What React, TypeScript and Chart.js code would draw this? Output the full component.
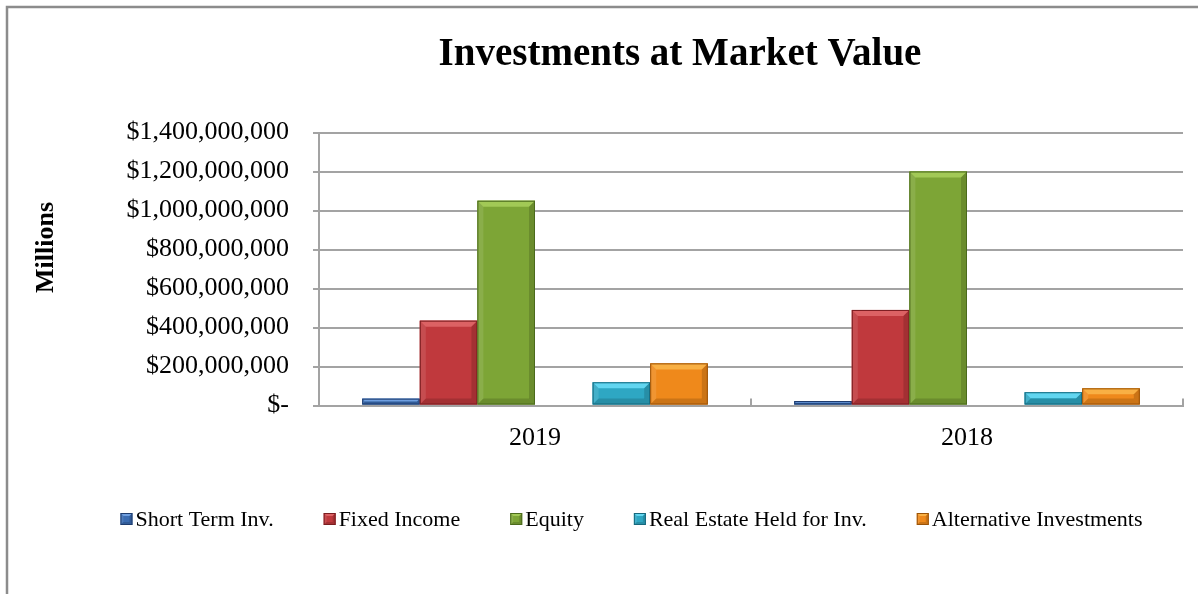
import React, { useEffect, useRef } from 'react';
import { Chart, registerables } from 'chart.js';

Chart.register(...registerables);

const categories = ['2019', '2018'];
const seriesNames = ['Short Term Inv.', 'Fixed Income', 'Equity', '', 'Real Estate Held for Inv.', 'Alternative Investments'];
const shortTermInv = [35000000, 23000000];
const fixedIncome = [435000000, 490000000];
const equity = [1050000000, 1200000000];
const emptySlot = [null, null];
const realEstateHeld = [119000000, 68000000];
const alternativeInv = [216000000, 88000000];
const yMin = 0;
const yMax = 1400000000;
const yStep = 200000000;
const titleText = 'Investments at Market Value';
const yAxisTitle = 'Millions';

const FONT = "'Liberation Serif', 'Times New Roman', serif";
const GRID = '#a3a3a3';

const palette = [
  { fill: '#3a6cb2', light: '#6f9fe0', dark: '#1e3c6e' },
  { fill: '#c0393d', light: '#dc6264', dark: '#7a1d20' },
  { fill: '#7da536', light: '#a2c956', dark: '#4b6a1c' },
  { fill: '#888888', light: '#aaaaaa', dark: '#555555' },
  { fill: '#2ea7c3', light: '#62d6f0', dark: '#16687d' },
  { fill: '#ef891b', light: '#f9b044', dark: '#9a5308' },
];

function drawBevelBox(ctx: CanvasRenderingContext2D, l: number, t: number, r: number, b: number, c: any, maxBevel: number) {
  const w = r - l;
  const h = b - t;
  if (w <= 0 || h <= 0) return;
  const bv = Math.max(0, Math.min(maxBevel, h / 2, w / 2));
  ctx.save();
  ctx.fillStyle = c.fill;
  ctx.fillRect(l, t, w, h);
  ctx.fillStyle = c.light;
  ctx.beginPath();
  ctx.moveTo(l, t); ctx.lineTo(r, t); ctx.lineTo(r - bv, t + bv); ctx.lineTo(l + bv, t + bv); ctx.closePath();
  ctx.fill();
  ctx.fillStyle = 'rgba(255,255,255,0.1)';
  ctx.beginPath();
  ctx.moveTo(l, t); ctx.lineTo(l + bv, t + bv); ctx.lineTo(l + bv, b - bv); ctx.lineTo(l, b); ctx.closePath();
  ctx.fill();
  ctx.fillStyle = 'rgba(0,0,0,0.15)';
  ctx.beginPath();
  ctx.moveTo(r, t); ctx.lineTo(r - bv, t + bv); ctx.lineTo(r - bv, b - bv); ctx.lineTo(r, b); ctx.closePath();
  ctx.fill();
  ctx.fillStyle = 'rgba(0,0,0,0.15)';
  ctx.beginPath();
  ctx.moveTo(l, b); ctx.lineTo(l + bv, b - bv); ctx.lineTo(r - bv, b - bv); ctx.lineTo(r, b); ctx.closePath();
  ctx.fill();
  ctx.strokeStyle = c.dark;
  ctx.lineWidth = 1;
  ctx.strokeRect(l + 0.5, t + 0.5, w - 1, h - 1);
  ctx.restore();
}

const bevelPlugin = {
  id: 'bevelBars',
  afterDatasetsDraw(chart: any) {
    const ctx = chart.ctx;
    chart.data.datasets.forEach((ds: any, di: number) => {
      const meta = chart.getDatasetMeta(di);
      meta.data.forEach((el: any, i: number) => {
        const v = ds.data[i];
        if (v === null || v === undefined) return;
        const { x, y, base, width } = el.getProps(['x', 'y', 'base', 'width'], true);
        const l = x - width / 2;
        const r = x + width / 2;
        const t = Math.min(y, base);
        const b = Math.max(y, base);
        drawBevelBox(ctx, l, t, r, b, palette[di], 6);
      });
    });
  },
};

const decorPlugin = {
  id: 'decor',
  afterDraw(chart: any) {
    const ctx = chart.ctx as CanvasRenderingContext2D;
    const xScale = chart.scales.x;
    const area = chart.chartArea;
    ctx.save();
    ctx.strokeStyle = '#8c8c8c';
    ctx.lineWidth = 2.5;
    ctx.beginPath();
    ctx.moveTo(7, chart.height + 5);
    ctx.lineTo(7, 7);
    ctx.lineTo(chart.width + 5, 7);
    ctx.stroke();

    ctx.strokeStyle = GRID;
    ctx.lineWidth = 2;
    const n = categories.length;
    for (let i = 0; i <= n; i++) {
      const x = xScale.left + (i * (xScale.right - xScale.left)) / n;
      ctx.beginPath();
      ctx.moveTo(x, area.bottom);
      ctx.lineTo(x, area.bottom - 7);
      ctx.stroke();
    }

    ctx.fillStyle = '#000';
    ctx.font = `bold 39px ${FONT}`;
    ctx.textAlign = 'center';
    ctx.textBaseline = 'alphabetic';
    ctx.fillText(titleText, 680, 65);

    ctx.save();
    ctx.translate(53, 247.5);
    ctx.rotate(-Math.PI / 2);
    ctx.font = `bold 26px ${FONT}`;
    ctx.textAlign = 'center';
    ctx.textBaseline = 'alphabetic';
    ctx.fillText(yAxisTitle, 0, 0);
    ctx.restore();

    ctx.font = `22px ${FONT}`;
    const box = 12;
    const textGap = 3;
    const itemGap = 50;
    const items = seriesNames
      .map((name, i) => ({ name, i }))
      .filter((it) => it.name !== '');
    const widths = items.map((it) => box + textGap + ctx.measureText(it.name).width);
    const total = widths.reduce((a, b) => a + b, 0) + itemGap * (items.length - 1);
    let lx = 631.5 - total / 2;
    const ly = 519;
    items.forEach((it, k) => {
      drawBevelBox(ctx, lx, ly - box / 2, lx + box, ly + box / 2, palette[it.i], 3);
      ctx.fillStyle = '#000';
      ctx.textAlign = 'left';
      ctx.textBaseline = 'middle';
      ctx.fillText(it.name, lx + box + textGap, ly + 1);
      lx += widths[k] + itemGap;
    });
    ctx.restore();
  },
};

export default function App() {
  const ref = useRef<HTMLCanvasElement | null>(null);
  useEffect(() => {
    if (!ref.current) return;
    const seriesData = [shortTermInv, fixedIncome, equity, emptySlot, realEstateHeld, alternativeInv];
    const chart = new Chart(ref.current, {
      type: 'bar',
      data: {
        labels: categories,
        datasets: seriesData.map((d, i) => ({
          label: seriesNames[i],
          data: d as any,
          backgroundColor: palette[i].fill,
          borderWidth: 0,
          barPercentage: 1,
          categoryPercentage: 0.8,
        })),
      },
      options: {
        responsive: false,
        animation: false,
        events: [],
        layout: { padding: { top: 132.5, right: 15, left: 0, bottom: 0 } },
        plugins: {
          legend: { display: false },
          title: { display: false },
          tooltip: { enabled: false },
        },
        scales: {
          x: {
            grid: { display: true, drawOnChartArea: false, drawTicks: false, color: GRID },
            border: { display: true, color: GRID, width: 2 },
            ticks: { font: { family: FONT, size: 26 }, color: '#000', padding: 17 },
            afterFit: (s: any) => { s.height = 594 - 405.5; },
          },
          y: {
            min: yMin,
            max: yMax,
            ticks: {
              stepSize: yStep,
              font: { family: FONT, size: 26 },
              color: '#000',
              padding: 24,
              callback: (v: any) => (Number(v) === 0 ? '$-' : '$' + Number(v).toLocaleString('en-US')),
            },
            grid: { color: GRID, lineWidth: 2, tickLength: 6 },
            border: { display: true, color: GRID, width: 2 },
            afterFit: (s: any) => { s.width = 319; },
          },
        },
      },
      plugins: [bevelPlugin, decorPlugin],
    });
    return () => chart.destroy();
  }, []);
  return (
    <div style={{ position: 'fixed', left: 0, top: 0, width: 1198, height: 594, background: '#fff', overflow: 'hidden' }}>
      <canvas ref={ref} width={1198} height={594} style={{ display: 'block' }} />
    </div>
  );
}
